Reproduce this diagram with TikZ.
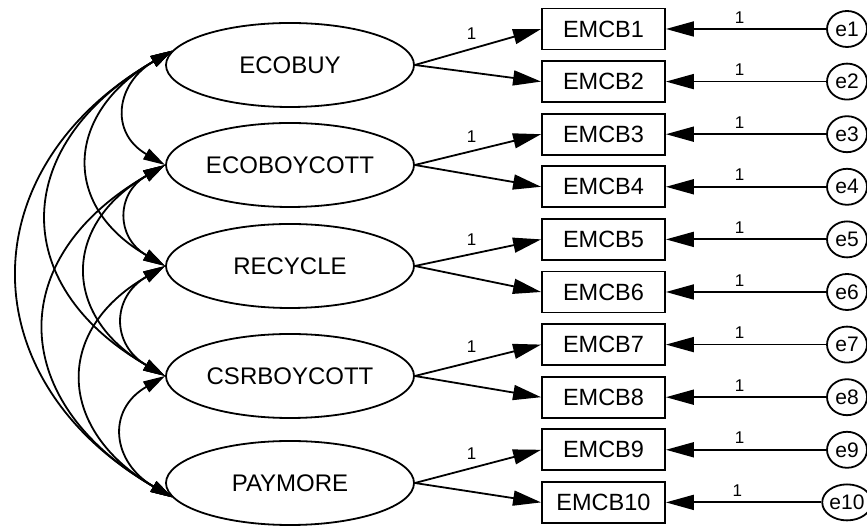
\documentclass[tikz,border=0pt]{standalone}
\usepackage{fontspec}
\setmainfont{Liberation Sans}
\usetikzlibrary{arrows.meta,shapes.geometric}
\begin{document}
\begin{tikzpicture}[x=1pt,y=1pt,
  lat/.style={draw, ellipse, line width=1.8pt, minimum width=248pt, minimum height=84pt, inner sep=0pt, font=\fontsize{24}{24}\selectfont},
  obs/.style={draw, line width=1.8pt, minimum width=123pt, minimum height=41pt, inner sep=0pt, font=\fontsize{23.5}{24}\selectfont},
  err/.style={draw, ellipse, line width=1.8pt, minimum width=40pt, minimum height=36pt, inner sep=0pt, font=\fontsize{21}{21}\selectfont},
  load/.style={line width=1.8pt, -{Triangle[length=28pt,width=15pt]}},
  cov/.style={line width=1.8pt, {Triangle[length=22pt,width=12pt]}-{Triangle[length=22pt,width=12pt]}},
  lab/.style={font=\fontsize{17}{17}\selectfont, inner sep=1pt}]
\useasboundingbox (0,0) rectangle (867,526);
% latent variables
\node[lat] (eb)  at (290,461) {ECOBUY};
\node[lat] (ebc) at (290,361) {ECOBOYCOTT};
\node[lat] (rc)  at (290,260) {RECYCLE};
\node[lat] (csr) at (290,150) {CSRBOYCOTT};
\node[lat] (pm)  at (290,43)  {PAYMORE};
% observed variables and errors
\foreach \i/\y in {1/497,2/444.4,3/391.8,4/339.2,5/286.6,6/234,7/181.4,8/128.8,9/76.2,10/23.6}{
  \node[obs] (b\i) at (603.5,\y) {EMCB\i};
  \node[err] (e\i) at (847,\y) {e\i};
  \draw[load] (e\i.west) -- node[lab, above=4pt, pos=0.54] {1} (b\i.east);
}
% loadings
\draw[load] (eb.east)  -- node[lab, above=7pt, pos=0.45] {1} (b1.west);
\draw[load] (eb.east)  -- (b2.west);
\draw[load] (ebc.east) -- node[lab, above=7pt, pos=0.45] {1} (b3.west);
\draw[load] (ebc.east) -- (b4.west);
\draw[load] (rc.east)  -- node[lab, above=7pt, pos=0.45] {1} (b5.west);
\draw[load] (rc.east)  -- (b6.west);
\draw[load] (csr.east) -- node[lab, above=7pt, pos=0.45] {1} (b7.west);
\draw[load] (csr.east) -- (b8.west);
\draw[load] (pm.east)  -- node[lab, above=7pt, pos=0.45] {1} (b9.west);
\draw[load] (pm.east)  -- (b10.west);
% covariances
\draw[cov] (eb.173)   to[out=210,in=150,looseness=1.45] (ebc.west);
\draw[cov] (eb.173)   to[out=210,in=150,looseness=1.45] (rc.west);
\draw[cov] (eb.173)   to[out=210,in=150,looseness=1.45] (csr.west);
\draw[cov] (eb.173)   to[out=210,in=150,looseness=1.35] (pm.187);
\draw[cov] (ebc.west) to[out=210,in=150,looseness=1.45] (rc.west);
\draw[cov] (ebc.west) to[out=210,in=150,looseness=1.45] (csr.west);
\draw[cov] (ebc.west) to[out=210,in=150,looseness=1.45] (pm.187);
\draw[cov] (rc.west)  to[out=210,in=150,looseness=1.45] (csr.west);
\draw[cov] (rc.west)  to[out=210,in=150,looseness=1.45] (pm.187);
\draw[cov] (csr.west) to[out=210,in=150,looseness=1.45] (pm.187);
\end{tikzpicture}
\end{document}
